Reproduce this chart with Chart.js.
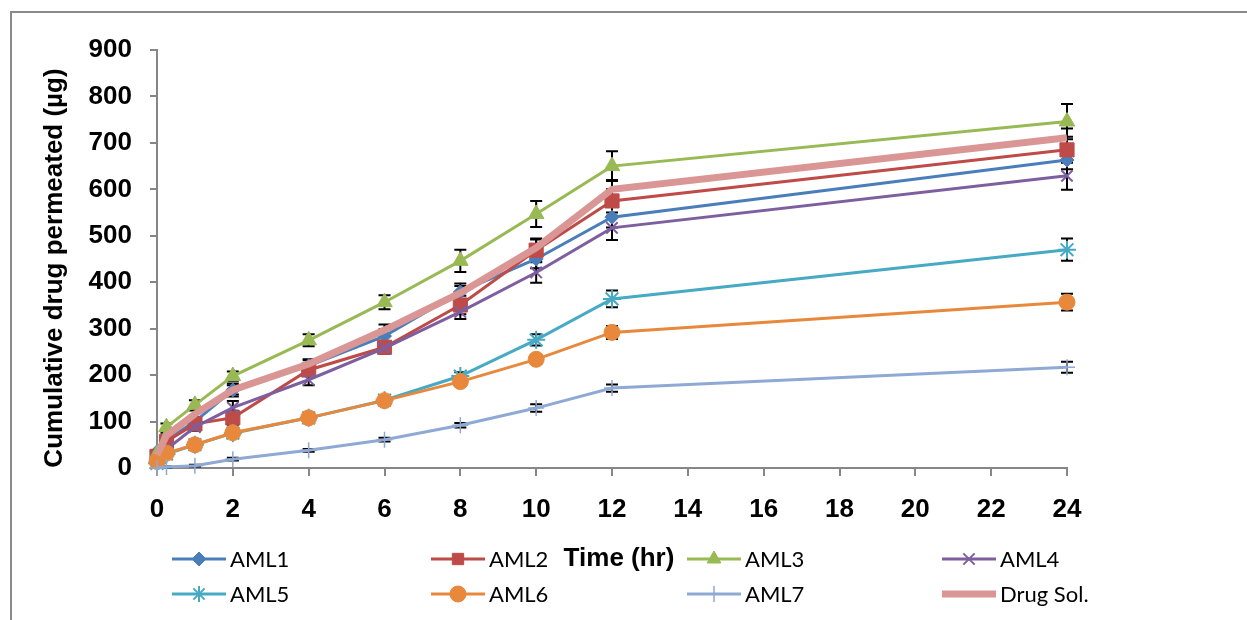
<!DOCTYPE html>
<html>
<head>
<meta charset="utf-8">
<script src="https://cdn.jsdelivr.net/npm/chart.js@4"></script>
<style>
  html, body { margin: 0; padding: 0; background: #ffffff; overflow: hidden; }
  #wrap { position: relative; width: 1247px; height: 620px; }
</style>
</head>
<body>
<div id="wrap"><canvas id="c" width="1247" height="620"></canvas></div>
<script>
// Sampling times (hr)
const timeHr = [0, 0.25, 1, 2, 4, 6, 8, 10, 12, 24];

// Cumulative drug permeated (µg) per formulation
const aml1    = [35, 60, 100, 168, 220, 284, 379, 450, 540, 663];
const aml2    = [25, 57,  95, 108, 211, 260, 351, 469, 575, 685];
const aml3    = [30, 88, 136, 198, 275, 357, 446, 547, 650, 746];
const aml4    = [15, 40,  88, 130, 190, 258, 336, 421, 517, 629];
const aml5    = [10, 30,  50,  75, 108, 146, 198, 276, 364, 470];
const aml6    = [14, 32,  50,  76, 108, 145, 186, 234, 292, 357];
const aml7    = [ 0,  2,   5,  19,  38,  61,  92, 129, 172, 217];
const drugSol = [28, 70, 116, 168, 224, 297, 377, 474, 600, 711];

// Standard deviations (µg)
const aml1Err    = [2, 6, 10, 14, 12, 15, 18, 20, 22, 20];
const aml2Err    = [2, 5, 10, 15, 10, 12, 20, 25, 25, 28];
const aml3Err    = [3, 8, 10, 10, 13, 15, 24, 28, 32, 38];
const aml4Err    = [2, 5,  8, 14, 12, 12, 15, 22, 26, 30];
const aml5Err    = [1, 3,  5,  6,  6,  6,  8, 12, 18, 24];
const aml6Err    = [1, 3,  4,  5,  5,  6,  8, 10, 14, 18];
const aml7Err    = [0, 1,  2,  3,  3,  4,  5,  8,  8, 12];
const drugSolErr = [2, 6,  8, 10, 10, 12, 15, 18, 20, 20];

// Axis ticks
const xTicks = [0, 2, 4, 6, 8, 10, 12, 14, 16, 18, 20, 22, 24];
const yTicks = [0, 100, 200, 300, 400, 500, 600, 700, 800, 900];

const seriesNames = ['AML1', 'AML2', 'AML3', 'AML4', 'AML5', 'AML6', 'AML7', 'Drug Sol.'];
const seriesValues = [aml1, aml2, aml3, aml4, aml5, aml6, aml7, drugSol];
const seriesErrors = [aml1Err, aml2Err, aml3Err, aml4Err, aml5Err, aml6Err, aml7Err, drugSolErr];

const styles = [
  { color: '#4A7EBB', point: 'rectRot',  radius: 7,   width: 3, pbw: 1 },
  { color: '#BE4B48', point: 'rect',     radius: 10,  width: 3, pbw: 1 },
  { color: '#98B954', point: 'triangle', radius: 9,   width: 3, pbw: 1 },
  { color: '#7D5FA0', point: 'crossRot', radius: 8,   width: 3, pbw: 2 },
  { color: '#46AAC4', point: 'star',     radius: 9,   width: 3, pbw: 2 },
  { color: '#E8883C', point: 'circle',   radius: 8,   width: 3, pbw: 1 },
  { color: '#8EA9D4', point: 'cross',    radius: 8,   width: 3, pbw: 1.5 },
  { color: '#D99694', point: false,      radius: 0,   width: 7, pbw: 0 }
];

const datasets = seriesNames.map((name, i) => ({
  label: name,
  data: timeHr.map((t, k) => ({ x: t, y: seriesValues[i][k] })),
  errors: seriesErrors[i],
  borderColor: styles[i].color,
  backgroundColor: styles[i].color,
  borderWidth: styles[i].width,
  pointStyle: styles[i].point,
  pointRadius: styles[i].radius,
  pointHoverRadius: styles[i].radius,
  pointBorderWidth: styles[i].pbw,
  pointBorderColor: styles[i].color,
  pointBackgroundColor: styles[i].color,
  tension: 0,
  clip: false,
  order: seriesNames.length - 1 - i
}));

const axisGray = '#868686';
const boldFont = '"Liberation Sans", Arial, sans-serif';
const tickFont = { family: boldFont, size: 26, weight: 'bold' };

// Outer frame around the figure
const framePlugin = {
  id: 'frame',
  beforeDraw(chart) {
    const ctx = chart.ctx;
    ctx.save();
    ctx.strokeStyle = '#8a8a8a';
    ctx.lineWidth = 2;
    ctx.beginPath();
    ctx.moveTo(11, 620);
    ctx.lineTo(11, 12);
    ctx.lineTo(1247, 12);
    ctx.stroke();
    ctx.restore();
  }
};

// Vertical error bars with caps, drawn under the lines
const errorBarPlugin = {
  id: 'errorBars',
  beforeDatasetsDraw(chart) {
    const ctx = chart.ctx;
    const xs = chart.scales.x, ys = chart.scales.y;
    ctx.save();
    ctx.strokeStyle = '#000000';
    ctx.lineWidth = 2;
    chart.data.datasets.forEach(ds => {
      ds.data.forEach((p, k) => {
        const e = ds.errors[k];
        if (!e) return;
        const px = xs.getPixelForValue(p.x);
        const yt = ys.getPixelForValue(p.y + e);
        const yb = ys.getPixelForValue(Math.max(0, p.y - e));
        ctx.beginPath();
        ctx.moveTo(px, yt); ctx.lineTo(px, yb);
        ctx.moveTo(px - 6, yt); ctx.lineTo(px + 6, yt);
        ctx.moveTo(px - 6, yb); ctx.lineTo(px + 6, yb);
        ctx.stroke();
      });
    });
    ctx.restore();
  }
};

// Axis titles and the two-row legend
const labelPlugin = {
  id: 'labels',
  afterDraw(chart) {
    const ctx = chart.ctx;
    const area = chart.chartArea;
    ctx.save();
    ctx.fillStyle = '#000000';
    ctx.font = 'bold 26px ' + boldFont;
    ctx.textAlign = 'center';
    ctx.textBaseline = 'middle';
    ctx.translate(55, (area.top + area.bottom) / 2 + 9);
    ctx.rotate(-Math.PI / 2);
    ctx.fillText('Cumulative drug permeated (µg)', 0, 0);
    ctx.restore();

    ctx.save();
    ctx.fillStyle = '#000000';
    ctx.font = 'bold 26px ' + boldFont;
    ctx.textAlign = 'center';
    ctx.textBaseline = 'middle';
    ctx.fillText('Time (hr)', 619, 559);
    ctx.restore();

    const cols = [172, 431, 687, 942];
    const rows = [559, 594];
    chart.data.datasets.forEach((ds, i) => {
      const x0 = cols[i % 4];
      const y0 = rows[Math.floor(i / 4)];
      const st = styles[i];
      ctx.save();
      ctx.strokeStyle = st.color;
      ctx.fillStyle = st.color;
      ctx.lineWidth = st.width;
      ctx.lineCap = 'butt';
      ctx.beginPath();
      ctx.moveTo(x0, y0); ctx.lineTo(x0 + 54, y0);
      ctx.stroke();
      if (st.point) {
        ctx.lineWidth = st.pbw;
        Chart.helpers.drawPoint(ctx, { pointStyle: st.point, radius: Math.min(st.radius, 8), rotation: 0, borderWidth: st.pbw }, x0 + 27, y0);
      }
      ctx.fillStyle = '#000000';
      ctx.font = '22px Lato, "Open Sans", sans-serif';
      ctx.textAlign = 'left';
      ctx.textBaseline = 'middle';
      ctx.fillText(ds.label, x0 + 58, y0 + 1);
      ctx.restore();
    });
  }
};

new Chart(document.getElementById('c'), {
  type: 'line',
  data: { datasets },
  plugins: [framePlugin, errorBarPlugin, labelPlugin],
  options: {
    responsive: false,
    animation: false,
    events: [],
    layout: { padding: { left: 0, top: 50, right: 180, bottom: 0 } },
    plugins: { legend: { display: false }, tooltip: { enabled: false } },
    scales: {
      x: {
        type: 'linear',
        min: 0, max: 24,
        afterFit(s) { s.height = 152; },
        afterBuildTicks(s) { s.ticks = xTicks.map(v => ({ value: v })); },
        border: { display: true, color: axisGray, width: 2 },
        grid: { drawOnChartArea: false, drawTicks: true, tickLength: 8, color: axisGray, lineWidth: 2 },
        ticks: { font: tickFont, color: '#000000', padding: 18, maxRotation: 0, autoSkip: false }
      },
      y: {
        type: 'linear',
        min: 0, max: 900,
        afterFit(s) { s.width = 157; },
        afterBuildTicks(s) { s.ticks = yTicks.map(v => ({ value: v })); },
        border: { display: true, color: axisGray, width: 2 },
        grid: { drawOnChartArea: false, drawTicks: true, tickLength: 7, color: axisGray, lineWidth: 2 },
        ticks: { font: tickFont, color: '#000000', padding: 18 }
      }
    }
  }
});
</script>
</body>
</html>
